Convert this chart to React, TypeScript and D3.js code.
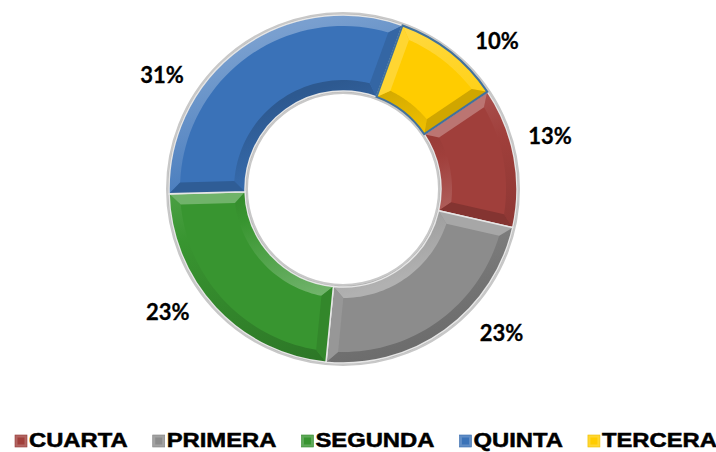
import React, { useMemo } from "react";
import * as d3 from "d3";

const categories = ["CUARTA", "PRIMERA", "SEGUNDA", "QUINTA", "TERCERA"];
const values = [13, 23, 23, 31, 10];
const labelTexts = ["13%", "23%", "23%", "31%", "10%"];
const colors = ["#A03F3B", "#8C8C8C", "#389530", "#3A72B8", "#FFCC00"];

const W = 716;
const H = 452;
const CX = 343;
const CY = 189;
const R_OUT = 174;
const R_IN = 98;
const BEVEL = 11;
const START_DEG = 56;
// label layout (angle nudges in degrees, label radius)
const LABEL_NUDGE = [-4, -12, 8, -22, 8];
const LABEL_R = 214;

const Lx = -0.33, Ly = -1;
const Ln = Math.hypot(Lx, Ly);
const LX = Lx / Ln, LY = Ly / Ln;

function shade(base: string, d: number) {
  if (d >= 0) return d3.interpolateRgb(base, "#ffffff")(d * 0.32);
  return d3.interpolateRgb(base, "#000000")(-d * 0.22);
}

function pt(r: number, a: number): [number, number] {
  return [r * Math.sin(a), -r * Math.cos(a)];
}

function polyPath(points: [number, number][]) {
  return "M" + points.map((p) => p[0].toFixed(2) + "," + p[1].toFixed(2)).join("L") + "Z";
}

function arcPoints(r: number, a0: number, a1: number, n = 40): [number, number][] {
  const out: [number, number][] = [];
  for (let i = 0; i <= n; i++) out.push(pt(r, a0 + ((a1 - a0) * i) / n));
  return out;
}

export default function App() {
  const pie = d3
    .pie<number>()
    .sort(null)
    .value((d) => d)
    .startAngle((START_DEG * Math.PI) / 180)
    .endAngle((START_DEG * Math.PI) / 180 + 2 * Math.PI);
  const arcs = pie(values);
  const arcGen = d3.arc<any>().innerRadius(R_IN).outerRadius(R_OUT);

  const legend = useMemo(() => {
    const cv = document.createElement("canvas");
    const ctx = cv.getContext("2d")!;
    ctx.font = "bold 20px 'Liberation Sans', Arial";
    let x = 15;
    return categories.map((c) => {
      const w = ctx.measureText(c).width * 1.19;
      const item = { x, w };
      x += 14 + w + 25;
      return item;
    });
  }, []);

  const rMidOut = R_OUT - BEVEL / 2;
  const rMidIn = R_IN + BEVEL / 2;

  return (
    <svg
      width={W}
      height={H}
      style={{ position: "absolute", left: 0, top: 0, display: "block" }}
    >
      <defs>
        {colors.map((c, i) => (
          <React.Fragment key={i}>
            <linearGradient
              id={`go${i}`}
              gradientUnits="userSpaceOnUse"
              x1={-LX * rMidOut}
              y1={-LY * rMidOut}
              x2={LX * rMidOut}
              y2={LY * rMidOut}
            >
              {d3.range(11).map((k) => (
                <stop key={k} offset={k / 10} stopColor={shade(c, (2 * k) / 10 - 1)} />
              ))}
            </linearGradient>
            <linearGradient
              id={`gi${i}`}
              gradientUnits="userSpaceOnUse"
              x1={-LX * rMidIn}
              y1={-LY * rMidIn}
              x2={LX * rMidIn}
              y2={LY * rMidIn}
            >
              {d3.range(11).map((k) => (
                <stop key={k} offset={k / 10} stopColor={shade(c, 1 - (2 * k) / 10)} />
              ))}
            </linearGradient>
          </React.Fragment>
        ))}
      </defs>
      <rect width={W} height={H} fill="#ffffff" />
      <g transform={`translate(${CX},${CY})`}>
        <circle r={R_OUT + 1.5} fill="none" stroke="#c8c8c8" strokeWidth={3} />
        <circle r={R_OUT + 0.5} fill="none" stroke="#8a8a8a" strokeWidth={0.8} opacity={0.6} />
        <circle r={R_IN - 1.5} fill="none" stroke="#c8c8c8" strokeWidth={3} />
        <circle r={R_IN - 0.5} fill="none" stroke="#8a8a8a" strokeWidth={0.8} opacity={0.6} />
        {arcs.map((a, i) => {
          const base = colors[i];
          const a0 = a.startAngle, a1 = a.endAngle;
          function b(r: number) { return BEVEL / r; }
          const dOut = b(R_OUT - BEVEL);
          const outer = polyPath([
            ...arcPoints(R_OUT, a0, a1),
            ...arcPoints(R_OUT - BEVEL, a1 - dOut, a0 + dOut),
          ]);
          const dIn = b(R_IN + BEVEL);
          const inner = polyPath([
            ...arcPoints(R_IN, a0, a1),
            ...arcPoints(R_IN + BEVEL, a1 - dIn, a0 + dIn),
          ]);
          const startFacet = polyPath([
            pt(R_IN, a0),
            pt(R_OUT, a0),
            pt(R_OUT - BEVEL, a0 + dOut),
            pt(R_IN + BEVEL, a0 + dIn),
          ]);
          const endFacet = polyPath([
            pt(R_IN, a1),
            pt(R_OUT, a1),
            pt(R_OUT - BEVEL, a1 - dOut),
            pt(R_IN + BEVEL, a1 - dIn),
          ]);
          const am0 = (a0 + dOut + a0 + dIn) / 2;
          const am1 = (a1 - dOut + a1 - dIn) / 2;
          const dStart = -(Math.cos(am0) * LX + Math.sin(am0) * LY);
          const dEnd = Math.cos(am1) * LX + Math.sin(am1) * LY;
          const isYellow = categories[i] === "TERCERA";
          return (
            <g key={i}>
              <path d={arcGen(a) as string} fill={base} />
              <path d={outer} fill={`url(#go${i})`} />
              <path d={inner} fill={`url(#gi${i})`} />
              <path d={startFacet} fill={shade(base, dStart * 0.9)} />
              <path d={endFacet} fill={shade(base, dEnd * 0.9)} />
              <path
                d={arcGen(a) as string}
                fill="none"
                stroke={isYellow ? "#41719C" : "#e6e6e6"}
                strokeWidth={isYellow ? 2 : 1.5}
              />
            </g>
          );
        })}
        {arcs.map((a, i) => {
          const ang = (a.startAngle + a.endAngle) / 2 + (LABEL_NUDGE[i] * Math.PI) / 180;
          const [x, y] = pt(LABEL_R, ang);
          return (
            <text
              key={i}
              x={x}
              y={y}
              textAnchor="middle"
              dominantBaseline="central"
              fontFamily="Lato, 'Open Sans', sans-serif"
              fontWeight={700}
              fontSize={22}
              fill="#000"
              stroke="#000"
              strokeWidth={0.3}
            >
              {labelTexts[i]}
            </text>
          );
        })}
      </g>
      <g>
        {categories.map((c, i) => {
          const { x } = legend[i];
          const col = colors[i];
          return (
            <g key={c}>
              <rect x={x} y={435} width={12} height={12} fill={shade(col, 0.6)} />
              <rect x={x + 2.5} y={437.5} width={7} height={7} fill={col} />
              <rect x={x} y={435} width={12} height={12} fill="none" stroke={shade(col, -0.3)} strokeWidth={0.6} />
              <text
                transform={`translate(${x + 14},447) scale(1.19,1)`}
                fontFamily="'Liberation Sans', Arial, sans-serif"
                fontWeight={700}
                fontSize={20}
                fill="#000"
                stroke="#000"
                strokeWidth={0.5}
              >
                {c}
              </text>
            </g>
          );
        })}
      </g>
    </svg>
  );
}
